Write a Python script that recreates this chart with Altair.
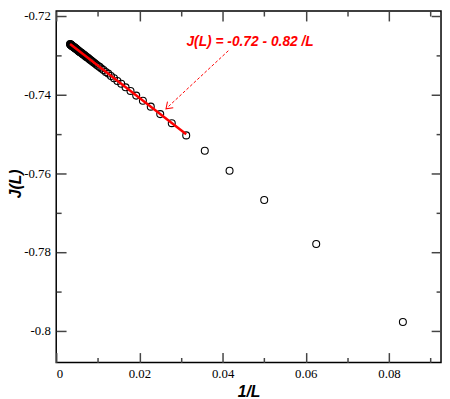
import altair as alt
import pandas as pd

# ---- data ----
L_values = [12, 16, 20, 24, 28, 32, 36, 40, 44, 48, 52, 56, 60, 64, 68, 72, 76, 80,
            84, 88, 92, 96, 100, 104, 108, 112, 116, 120, 124, 128, 132, 136, 140,
            144, 148, 152, 156, 160, 164, 168, 172, 176, 180, 184, 188, 192, 196,
            200, 204, 208, 212, 216, 220, 224, 228, 232, 236, 240, 244, 248, 252,
            256, 260, 264, 268, 272, 276, 280, 284, 288, 292, 296, 300]
J_values = [-0.7978, -0.7780, -0.7668, -0.7594, -0.7543, -0.7504, -0.7473, -0.7450,
            -0.7431, -0.7416, -0.7403, -0.7391, -0.7382, -0.7373, -0.7366, -0.7359,
            -0.7353, -0.7347, -0.7343, -0.7338, -0.7334, -0.7330, -0.7327, -0.7324,
            -0.7321, -0.7318, -0.7316, -0.7313, -0.7311, -0.7309, -0.7307, -0.7305,
            -0.7304, -0.7302, -0.7300, -0.7299, -0.7298, -0.7296, -0.7295, -0.7294,
            -0.7293, -0.7292, -0.7291, -0.7290, -0.7289, -0.7288, -0.7287, -0.7286,
            -0.7285, -0.7284, -0.7284, -0.7283, -0.7282, -0.7282, -0.7281, -0.7280,
            -0.7280, -0.7279, -0.7279, -0.7278, -0.7278, -0.7277, -0.7277, -0.7276,
            -0.7276, -0.7275, -0.7275, -0.7274, -0.7274, -0.7273, -0.7273, -0.7273,
            -0.7272]
assert len(L_values) == len(J_values)

fit_x = [0.003333, 0.03125]
fit_y = [-0.7272, -0.7501]

note_text = ["J(L) = -0.72 - 0.82 /L"]
note_x = [0.0466]
note_y = [-0.7268]
arrow_x = [0.04137]
arrow_y = [-0.7289]
arrow_x2 = [0.02638]
arrow_y2 = [-0.74365]

x_major = [0, 0.02, 0.04, 0.06, 0.08]
x_minor = [0.01, 0.03, 0.05, 0.07, 0.09]
y_major = [-0.8, -0.78, -0.76, -0.74, -0.72]
y_minor = [-0.79, -0.77, -0.75, -0.73]

X_DOMAIN = [0, 0.0925]
Y_DOMAIN = [-0.80808, -0.71883]

pts = pd.DataFrame({"inv_L": [1.0 / v for v in L_values], "J": J_values})
fit = pd.DataFrame({"inv_L": fit_x, "J": fit_y})
note = pd.DataFrame({"inv_L": note_x, "J": note_y, "t": note_text})
arrow = pd.DataFrame({"inv_L": arrow_x, "J": arrow_y, "x2": arrow_x2, "y2": arrow_y2})

xs = alt.Scale(domain=X_DOMAIN, nice=False, zero=False)
ys = alt.Scale(domain=Y_DOMAIN, nice=False, zero=False)

TICK = "#444444"
LBL = "'' + datum.value"
SERIF = "Liberation Serif"


def ax(orient, values, size, labels, title=None, lp=5, tp=4, **extra):
    kw = dict(orient=orient, values=values, tickSize=size, offset=-size,
              domain=False, grid=False, labels=labels, tickColor=TICK,
              tickWidth=1.5, labelFont=SERIF, labelFontSize=13,
              labelColor="black", labelPadding=lp, labelExpr=LBL)
    if title:
        kw.update(title=title, titleFont="Liberation Sans", titleFontSize=16,
                  titleFontStyle="italic", titleFontWeight="bold",
                  titleColor="black", titlePadding=tp)
    else:
        kw.update(title="")
    kw.update(extra)
    return alt.Axis(**kw)


points = alt.Chart(pts).mark_point(
    shape="circle", size=50, filled=False, stroke="black", strokeWidth=1.1, opacity=1
).encode(
    x=alt.X("inv_L:Q", scale=xs, axis=ax("bottom", x_major, 10, True, "1/L", 5, 4)),
    y=alt.Y("J:Q", scale=ys, axis=ax("left", y_major, 10, True, "J(L)", 6, 3,
                                     titleX=-51, titleY=175, titleBaseline="middle")),
)

fitline = alt.Chart(fit).mark_line(color="red", strokeWidth=2.5).encode(
    x=alt.X("inv_L:Q", scale=xs, axis=ax("top", x_major, 10, False)),
    y=alt.Y("J:Q", scale=ys, axis=ax("right", y_major, 10, False)),
)

text = alt.Chart(note).mark_text(
    text=note_text[0], color="red", font="Liberation Sans", fontSize=14,
    fontStyle="italic", fontWeight="bold", align="center", baseline="middle"
).encode(
    x=alt.X("inv_L:Q", scale=xs, axis=ax("bottom", x_minor, 5, False)),
    y=alt.Y("J:Q", scale=ys, axis=ax("left", y_minor, 5, False)),
)

arrow_line = alt.Chart(arrow).mark_rule(
    color="red", strokeWidth=1, strokeDash=[3, 2]
).encode(
    x=alt.X("inv_L:Q", scale=xs, axis=ax("top", x_minor, 5, False)),
    y=alt.Y("J:Q", scale=ys, axis=ax("right", y_minor, 5, False)),
    x2="x2:Q",
    y2="y2:Q",
)

arrow_head = alt.Chart(arrow).mark_point(
    shape="M -1 -0.7 L 0 0 L -1 0.7", size=150, filled=False, stroke="red",
    strokeWidth=1, angle=137, opacity=1
).encode(
    x=alt.X("x2:Q", scale=xs, axis=None),
    y=alt.Y("y2:Q", scale=ys, axis=None),
)

chart = alt.layer(points, fitline, text, arrow_line, arrow_head).resolve_axis(
    x="independent", y="independent"
).properties(
    width=391, height=357,
    autosize=alt.AutoSizeParams(type="none"),
    padding={"left": 49, "top": 0, "right": 1, "bottom": 34},
    background="white",
).configure_view(stroke="black", strokeWidth=1.5)

chart.save("out.html", embed_options={"renderer": "svg", "actions": False})
